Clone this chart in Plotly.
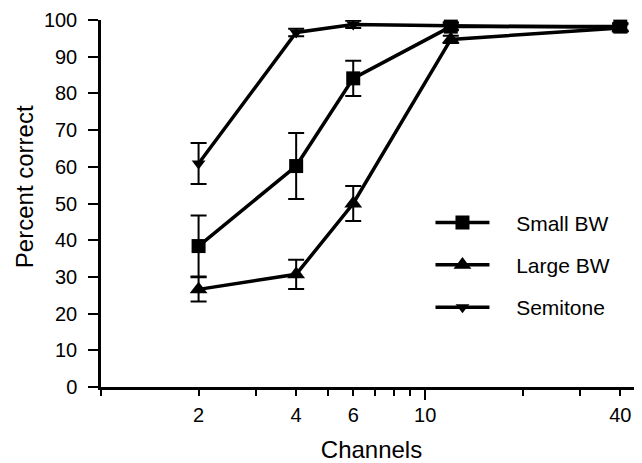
import plotly.graph_objects as go

channels = [2, 4, 6, 12, 40]
small_bw = [38.4, 60.2, 84.1, 98.2, 98.2]
small_bw_err = [8.3, 9.0, 4.8, 1.0, 1.0]
large_bw = [26.6, 30.7, 50.0, 94.7, 97.8]
large_bw_err = [3.3, 4.0, 4.8, 1.0, 1.0]
semitone = [60.9, 96.6, 98.8, 98.4, 98.0]
semitone_err = [5.6, 1.0, 1.0, 1.0, 1.0]

x_tickvals = [2, 4, 6, 10, 40]
x_ticktext = ["2", "4", "6", "10", "40"]
x_minor = [1, 3, 5, 7, 8, 9, 20, 30]
y_tickvals = list(range(0, 101, 10))

FONT = "Liberation Sans, Arial, Helvetica, sans-serif"
PAD = "\u00a0\u00a0\u00a0\u2009"

def series(name, y, err, symbol, size, group):
    return go.Scatter(
        x=channels, y=y, name=PAD + name, mode="lines+markers",
        line=dict(color="black", width=3.5),
        marker=dict(symbol=symbol, size=size, color="black"),
        error_y=dict(type="data", array=err, visible=True, color="black",
                     thickness=2, width=8),
        cliponaxis=False, legendgroup=group,
    )

fig = go.Figure()
fig.add_trace(series("Small BW", small_bw, small_bw_err, "square", 14, "a"))
fig.add_trace(series("Large BW", large_bw, large_bw_err, "triangle-up", 15.5, "b"))
fig.add_trace(series("Semitone", semitone, semitone_err, "triangle-down", 12, "c"))
# overlay axis for the longer decade tick at 10
fig.add_trace(go.Scatter(x=[10], y=[0], xaxis="x2", mode="markers",
                         marker=dict(opacity=0), showlegend=False, hoverinfo="skip"))

# page has an 8px body margin, so the figure is sized to fit inside the window
fig.update_layout(
    width=634, height=455,
    margin=dict(l=93, r=0, t=12, b=76),
    paper_bgcolor="white", plot_bgcolor="white",
    font=dict(family=FONT, color="black", size=20),
    showlegend=True,
    legend=dict(x=0.609, y=0.503, xanchor="left", yanchor="top",
                font=dict(size=21), itemwidth=54, tracegroupgap=12,
                bgcolor="rgba(0,0,0,0)"),
    xaxis=dict(
        type="log", range=[0, 1.669], automargin=False,
        tickmode="array", tickvals=x_tickvals, ticktext=x_ticktext,
        ticks="outside", ticklen=6, tickwidth=2, tickcolor="black",
        minor=dict(tickmode="array", tickvals=x_minor, ticks="outside",
                   ticklen=6, tickwidth=2, tickcolor="black"),
        showline=True, linecolor="black", linewidth=2.5,
        showgrid=False, zeroline=False,
        ticklabelstandoff=2,
        title=dict(text="Channels", font=dict(size=24), standoff=17),
    ),
    xaxis2=dict(
        type="log", range=[0, 1.669], overlaying="x", side="bottom",
        automargin=False,
        tickmode="array", tickvals=[10], ticktext=[""],
        ticks="outside", ticklen=12, tickwidth=2, tickcolor="black",
        showline=False, showgrid=False, zeroline=False, showticklabels=False,
    ),
    yaxis=dict(
        range=[0, 100], tickmode="array", tickvals=y_tickvals, automargin=False,
        ticks="outside", ticklen=10, tickwidth=2, tickcolor="black",
        showline=True, linecolor="black", linewidth=2.5,
        showgrid=False, zeroline=False, ticklabelstandoff=7,
    ),
    annotations=[dict(
        text="Percent correct", textangle=-90, showarrow=False,
        xref="paper", yref="paper", x=-0.1423, y=0.5446,
        xanchor="center", yanchor="middle", font=dict(size=24),
    )],
)

fig.write_html("out.html")
